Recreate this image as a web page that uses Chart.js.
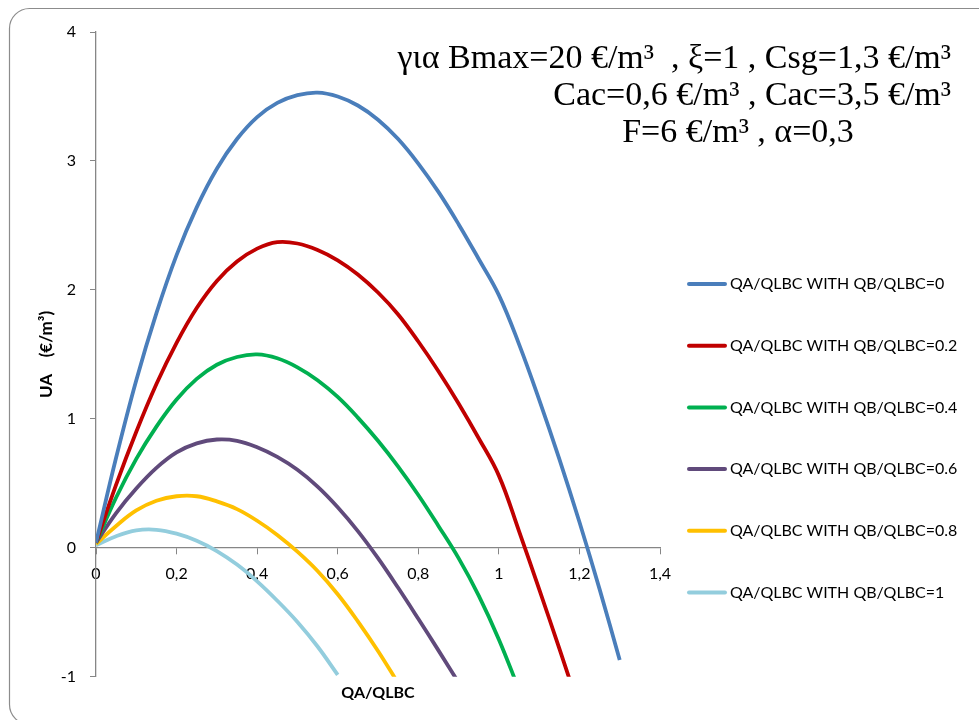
<!DOCTYPE html>
<html>
<head>
<meta charset="utf-8">
<script src="https://cdn.jsdelivr.net/npm/chart.js@4.4.1/dist/chart.umd.min.js"></script>
<style>
  html, body { margin: 0; padding: 0; background: #fff; }
  #wrap { width: 979px; height: 720px; }
</style>
</head>
<body>
<div id="wrap"><canvas id="graficoUA" width="979" height="720"></canvas></div>
<script>
// QA/QLBC values (x), step 0.05
const qaGrid = [0, 0.05, 0.1, 0.15, 0.2, 0.25, 0.3, 0.35, 0.4, 0.45, 0.5, 0.55, 0.6, 0.65,
  0.7, 0.75, 0.8, 0.85, 0.9, 0.95, 1.0, 1.05, 1.1, 1.15, 1.2, 1.25, 1.3];

// UA (€/m3) for each QB/QLBC
const uaQb00 = [0.04, 0.70, 1.30, 1.82, 2.27, 2.64, 2.94, 3.17, 3.34, 3.45, 3.51, 3.53, 3.50, 3.43,
  3.32, 3.17, 2.98, 2.76, 2.51, 2.24, 1.96, 1.58, 1.15, 0.69, 0.20, -0.32, -0.87];
const uaQb02 = [0.04, 0.49, 0.90, 1.27, 1.59, 1.86, 2.07, 2.22, 2.32, 2.37, 2.36, 2.31, 2.23, 2.12,
  1.98, 1.81, 1.60, 1.37, 1.12, 0.85, 0.56, 0.13, -0.32, -0.78, -1.25];
const uaQb04 = [0.04, 0.39, 0.69, 0.94, 1.15, 1.31, 1.42, 1.48, 1.50, 1.47, 1.40, 1.30, 1.17, 1.01,
  0.83, 0.63, 0.41, 0.17, -0.08, -0.37, -0.71, -1.10];
const uaQb06 = [0.04, 0.27, 0.46, 0.62, 0.74, 0.81, 0.84, 0.83, 0.78, 0.705, 0.605, 0.475, 0.315, 0.13,
  -0.08, -0.31, -0.55, -0.795, -1.045];
const uaQb08 = [0.03, 0.17, 0.29, 0.365, 0.40, 0.40, 0.36, 0.30, 0.21, 0.10, -0.03, -0.18, -0.36, -0.57,
  -0.80, -1.05];
const uaQb10 = [0.02, 0.09, 0.135, 0.14, 0.11, 0.055, -0.025, -0.13, -0.26, -0.41, -0.575, -0.765, -0.985];

const seriesLabels = [
  'QA/QLBC WITH QB/QLBC=0',
  'QA/QLBC WITH QB/QLBC=0.2',
  'QA/QLBC WITH QB/QLBC=0.4',
  'QA/QLBC WITH QB/QLBC=0.6',
  'QA/QLBC WITH QB/QLBC=0.8',
  'QA/QLBC WITH QB/QLBC=1'
];
const seriesColors = ['#4a7ebb', '#c00000', '#00b050', '#604a7b', '#ffc000', '#93cddd'];
const xTickLabels = ['0', '0,2', '0,4', '0,6', '0,8', '1', '1,2', '1,4'];
const yTickLabels = ['-1', '0', '1', '2', '3', '4'];
const notaLinhas = [
  'για Bmax=20 €/m³  , ξ=1 , Csg=1,3 €/m³',
  'Cac=0,6 €/m³ , Cac=3,5 €/m³',
  'F=6 €/m³ , α=0,3'
];

const allSeries = [uaQb00, uaQb02, uaQb04, uaQb06, uaQb08, uaQb10];
const datasets = allSeries.map((ua, i) => ({
  label: seriesLabels[i],
  data: ua.map((y, k) => ({ x: qaGrid[k], y: y })),
  borderColor: seriesColors[i],
  backgroundColor: seriesColors[i],
  borderWidth: 3.8,
  pointRadius: 0,
  tension: 0.4,
  fill: false
}));

const axisGray = '#868686';
const uiFont = 'Lato, "Open Sans", sans-serif';

// moldura arredondada da área do gráfico
const moldura = {
  id: 'moldura',
  beforeDraw(chart) {
    const ctx = chart.ctx;
    ctx.save();
    ctx.strokeStyle = '#8c8c8c';
    ctx.lineWidth = 1.2;
    ctx.beginPath();
    ctx.roundRect(9.5, 8.5, 1000, 716, 20);
    ctx.stroke();
    ctx.restore();
  }
};

// legenda à direita, com espaçamento largo
const legendaDireita = {
  id: 'legendaDireita',
  afterDraw(chart) {
    const { ctx, chartArea } = chart;
    ctx.save();
    ctx.font = '16px ' + uiFont;
    ctx.textBaseline = 'middle';
    ctx.textAlign = 'left';
    chart.data.datasets.forEach((ds, i) => {
      const y = chartArea.top + 252 + i * 61.7;
      const x = chartArea.right + 29;
      ctx.strokeStyle = ds.borderColor;
      ctx.lineWidth = 4;
      ctx.lineCap = 'round';
      ctx.beginPath();
      ctx.moveTo(x, y);
      ctx.lineTo(x + 36, y);
      ctx.stroke();
      ctx.fillStyle = '#000';
      ctx.fillText(ds.label, x + 41, y);
    });
    ctx.restore();
  }
};

// texto com os parâmetros
const notaParametros = {
  id: 'notaParametros',
  afterDraw(chart) {
    const ctx = chart.ctx;
    ctx.save();
    ctx.font = '34px "Liberation Serif", "Times New Roman", serif';
    ctx.fillStyle = '#000';
    ctx.textBaseline = 'alphabetic';
    ctx.textAlign = 'right';
    ctx.fillText(notaLinhas[0], 951, 68);
    ctx.fillText(notaLinhas[1], 951, 105);
    ctx.textAlign = 'center';
    ctx.fillText(notaLinhas[2], 738, 142);
    ctx.restore();
  }
};

Chart.defaults.font.family = uiFont;
Chart.defaults.color = '#000';

const canvas = document.getElementById('graficoUA');
new Chart(canvas, {
  type: 'line',
  data: { datasets: datasets },
  plugins: [moldura, legendaDireita, notaParametros],
  options: {
    responsive: false,
    animation: false,
    layout: { padding: { top: 32, left: 10, right: 319, bottom: 0 } },
    plugins: {
      legend: { display: false },
      tooltip: { enabled: false },
      title: {
        display: true,
        position: 'bottom',
        fullSize: false,
        text: 'QA/QLBC',
        font: { size: 16, weight: 'bold' },
        color: '#000',
        padding: { top: 6, bottom: 18 }
      }
    },
    scales: {
      x: {
        type: 'linear',
        position: { y: 0 },
        min: 0,
        max: 1.4,
        ticks: {
          stepSize: 0.2,
          padding: 10,
          font: { size: 16 },
          color: '#000',
          callback: (v, i) => xTickLabels[i]
        },
        grid: { drawOnChartArea: false, drawTicks: true, tickLength: 6, color: axisGray },
        border: { display: true, color: axisGray, width: 1.3 }
      },
      y: {
        min: -1,
        max: 4,
        ticks: {
          stepSize: 1,
          padding: 14,
          font: { size: 16 },
          color: '#000',
          callback: (v, i) => yTickLabels[i]
        },
        grid: { drawOnChartArea: false, drawTicks: true, tickLength: 6, color: axisGray },
        border: { display: true, color: axisGray, width: 1.3 },
        title: {
          display: true,
          text: 'UA    (€/m³)',
          font: { size: 17, weight: 'bold' },
          color: '#000',
          padding: { top: 26, bottom: 0 }
        },
        afterFit(scale) { scale.width = 86; }
      }
    }
  }
});
</script>
</body>
</html>
